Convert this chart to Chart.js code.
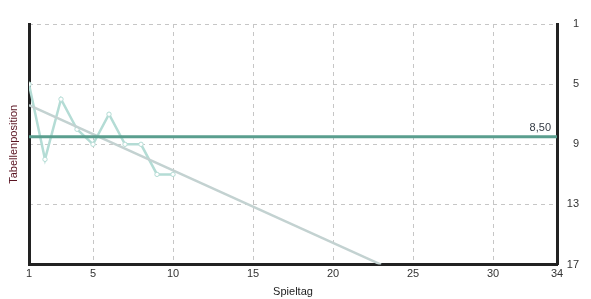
<!DOCTYPE html>
<html>
<head>
<meta charset="utf-8">
<script src="https://cdn.jsdelivr.net/npm/chart.js@4/dist/chart.umd.min.js"></script>
<style>
	html, body { margin: 0; padding: 0; background: #fff; }
	#wrap { width: 591px; height: 299px; }
</style>
</head>
<body>
<div id="wrap"><canvas id="chart"></canvas></div>
<script>
	"use strict"

	// Matchdays 1..10 with the league position after each one.
	var spieltage = [1, 2, 3, 4, 5, 6, 7, 8, 9, 10]
	var positionen = [5, 10, 6, 8, 9, 7, 9, 9, 11, 11]
	// Average position (drawn across the whole season).
	var durchschnitt = 8.5
	var durchschnittLabel = "8,50"
	// Trend line end points.
	var trendX = [1, 23]
	var trendY = [6.4, 17]
	// Axis ticks.
	var xTicks = [1, 5, 10, 15, 20, 25, 30, 34]
	var yTicks = [1, 5, 9, 13, 17]

	var GRID = "#c6c6c6"
	var AXIS = "#222222"
	var TEXT = "#333333"

	Chart.defaults.font.family = '"Liberation Sans", Arial, sans-serif'
	Chart.defaults.font.size = 11
	Chart.defaults.color = TEXT

	function pts(xs, ys) {
		return xs.map(function (x, i) {
			return { x: x, y: ys[i] }
		})
	}

	var avgLabel = {
		id: "avgLabel",
		afterDatasetsDraw: function (chart) {
			var ctx = chart.ctx
			var y = chart.scales.y.getPixelForValue(durchschnitt)
			ctx.save()
			ctx.font = '11px "Liberation Sans", Arial, sans-serif'
			ctx.fillStyle = "#333a44"
			ctx.textAlign = "right"
			ctx.textBaseline = "bottom"
			ctx.fillText(durchschnittLabel, chart.chartArea.right - 6, y - 3)
			ctx.restore()
		},
	}

	new Chart(document.getElementById("chart"), {
		type: "line",
		data: {
			datasets: [
				{
					label: "Durchschnitt",
					data: pts([xTicks[0], xTicks[xTicks.length - 1]], [durchschnitt, durchschnitt]),
					borderColor: "#5a9e8e",
					borderWidth: 3,
					pointRadius: 0,
					yAxisID: "y",
					order: 1,
				},
				{
					label: "Trend",
					data: pts(trendX, trendY),
					borderColor: "#c3d2d1",
					borderWidth: 2.5,
					pointRadius: 0,
					yAxisID: "y",
					order: 2,
				},
				{
					label: "Position",
					data: pts(spieltage, positionen),
					borderColor: "#b4dcd5",
					borderWidth: 2.5,
					pointRadius: 2.2,
					pointBackgroundColor: "#ffffff",
					pointBorderColor: "#b4dcd5",
					pointBorderWidth: 1,
					tension: 0,
					yAxisID: "y",
					order: 3,
				},
			],
		},
		options: {
			responsive: true,
			maintainAspectRatio: false,
			animation: false,
			layout: { padding: { top: 24, right: 12, bottom: 0, left: 0 } },
			plugins: { legend: { display: false }, tooltip: { enabled: false } },
			scales: {
				x: {
					type: "linear",
					min: 1,
					max: 34,
					afterBuildTicks: function (axis) {
						axis.ticks = xTicks.map(function (v) { return { value: v } })
					},
					grid: {
						drawTicks: false,
						color: function (c) {
							var v = c.tick && c.tick.value
							return v === 1 || v === 34 ? "rgba(0,0,0,0)" : GRID
						},
					},
					border: { display: true, color: AXIS, width: 3, dash: [4, 4] },
					ticks: { padding: 3, maxRotation: 0, autoSkip: false, color: TEXT },
					title: { display: true, text: "Spieltag", color: "#222", padding: { top: 2, bottom: 0 } },
				},
				y: {
					position: "right",
					reverse: true,
					min: 1,
					max: 17,
					afterBuildTicks: function (axis) {
						axis.ticks = yTicks.map(function (v) { return { value: v } })
					},
					afterFit: function (axis) {
						axis.width = 22
					},
					grid: {
						drawTicks: false,
						color: function (c) {
							var v = c.tick && c.tick.value
							return v === 17 ? "rgba(0,0,0,0)" : GRID
						},
					},
					border: { display: true, color: AXIS, width: 3, dash: [4, 4] },
					ticks: { crossAlign: "far", padding: 0, color: TEXT },
				},
				yLeft: {
					position: "left",
					reverse: true,
					min: 1,
					max: 17,
					afterFit: function (axis) {
						axis.width = 29
					},
					grid: { display: false, drawTicks: false },
					border: { display: true, color: AXIS, width: 3 },
					ticks: { display: false },
					title: { display: true, text: "Tabellenposition", color: "#5a1422", padding: { top: 7, bottom: 0 } },
				},
			},
		},
		plugins: [avgLabel],
	})
</script>
</body>
</html>
